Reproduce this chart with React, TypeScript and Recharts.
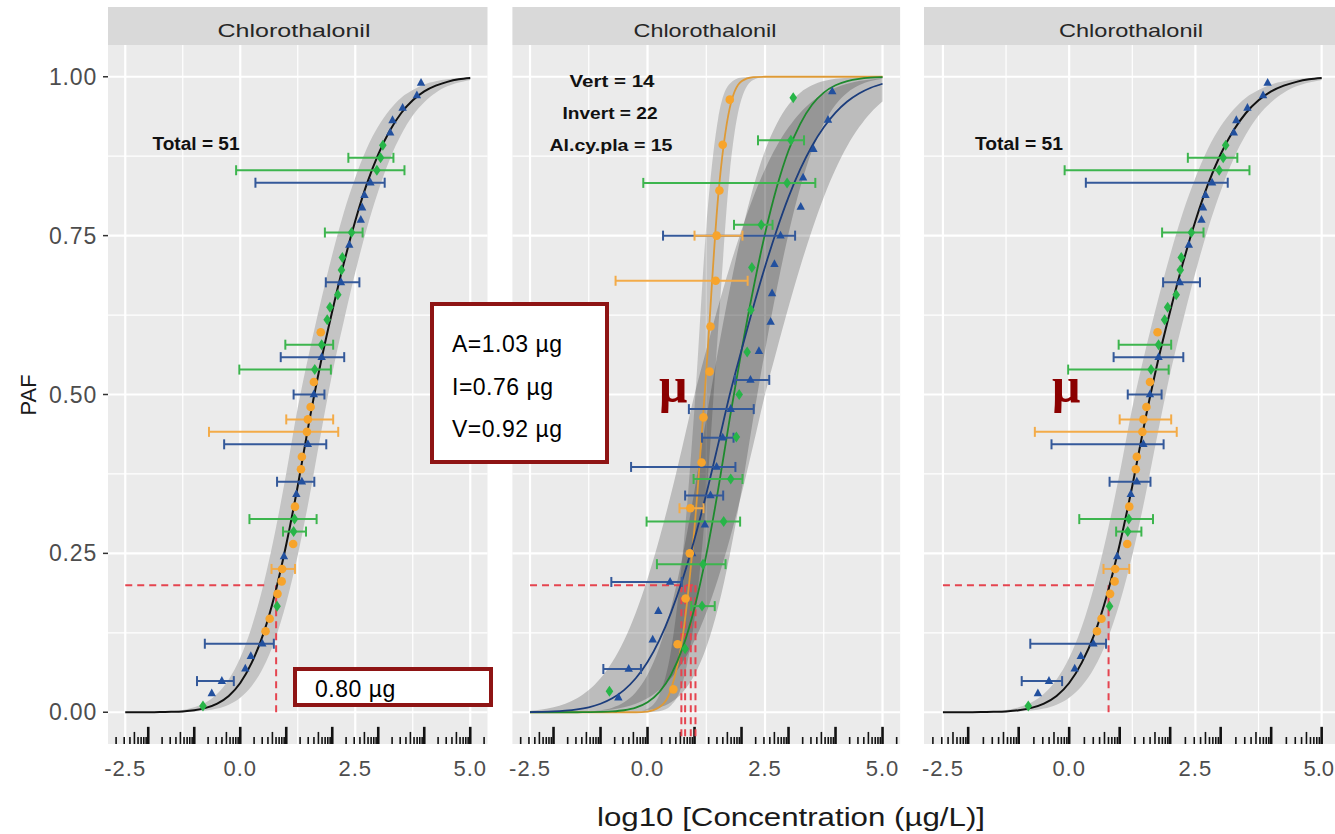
import {
  ComposedChart,
  XAxis,
  YAxis,
  CartesianGrid,
  Line,
  Area,
  Scatter,
  ErrorBar,
  ReferenceLine,
} from "recharts";

const FONT = '"Liberation Sans", Arial, sans-serif';

// tick labels / grid
const xTicks = [-2.5, 0, 2.5, 5];
const xMinor = [-1.25, 1.25, 3.75];
const yTicks = [0, 0.25, 0.5, 0.75, 1];
const yMinor = [0.125, 0.375, 0.625, 0.875];
const panelTitle = "Chlorothalonil";
const groupLabels = ["Vert = 14", "Invert = 22", "Al.cy.pla = 15"];
const totalLabel = "Total = 51";
const hcLabels = ["A=1.03 µg", "I=0.76 µg", "V=0.92 µg"];
const hcTotalLabel = "0.80 µg";

// species points: log10 conc, CI low/high (null = no bar), PAF in pooled fit, PAF in group fit
const vertConc = [0.55, 0.64, 0.81, 0.9, 0.91, 1.15, 1.19, 1.32, 1.34, 1.45, 1.47, 1.53, 1.6, 1.75];
const vertLo = [null, null, null, null, 0.68, null, null, null, null, -0.68, 1.0, null, null, null];
const vertHi = [null, null, null, null, 1.19, null, null, null, null, 2.13, 2.02, null, null, null];
const vertPafAll = [0.1275, 0.1471, 0.1863, 0.2059, 0.2255, 0.2647, 0.3235, 0.3824, 0.402, 0.4412, 0.4608, 0.4804, 0.5196, 0.598];
const vertPafGroup = [0.036, 0.107, 0.179, 0.25, 0.321, 0.393, 0.464, 0.536, 0.607, 0.679, 0.75, 0.821, 0.893, 0.964];

const invConc = [-0.62, -0.4, 0.11, 0.23, 0.48, 0.95, 1.22, 1.34, 1.47, 1.6, 1.77, 2.19, 2.37, 2.62, 2.65, 2.7, 2.83, 3.26, 3.31, 3.53, 3.84, 3.93];
const invLo = [null, -0.94, null, null, -0.77, null, null, 0.8, -0.35, 1.16, 0.88, 1.86, null, null, null, null, 0.33, null, null, null, null, null];
const invHi = [null, -0.14, null, null, 0.73, null, null, 1.61, 1.87, 1.83, 2.26, 2.59, null, null, null, null, 3.14, null, null, null, null, null];
const invPafAll = [0.0294, 0.049, 0.0686, 0.0882, 0.1078, 0.2451, 0.3431, 0.3627, 0.4216, 0.5, 0.5588, 0.6765, 0.7353, 0.7745, 0.7941, 0.8137, 0.8333, 0.9118, 0.9314, 0.951, 0.9706, 0.9902];
const invPafGroup = [0.023, 0.068, 0.114, 0.159, 0.205, 0.25, 0.295, 0.341, 0.386, 0.432, 0.477, 0.523, 0.568, 0.614, 0.659, 0.705, 0.75, 0.795, 0.841, 0.886, 0.932, 0.977];

const algConc = [-0.81, 0.8, 1.16, 1.18, 1.62, 1.77, 1.89, 1.95, 2.12, 2.2, 2.22, 2.42, 2.97, 3.05, 3.1];
const algLo = [null, null, 0.93, 0.2, -0.02, 0.98, null, null, null, null, null, 1.84, -0.09, 2.35, null];
const algHi = [null, null, 1.43, 1.66, 1.97, 2.02, null, null, null, null, null, 2.66, 3.57, 3.33, null];
const algPafAll = [0.0098, 0.1667, 0.2843, 0.3039, 0.5392, 0.5784, 0.6176, 0.6373, 0.6569, 0.6961, 0.7157, 0.7549, 0.8529, 0.8725, 0.8922];
const algPafGroup = [0.033, 0.1, 0.167, 0.233, 0.3, 0.367, 0.433, 0.5, 0.567, 0.633, 0.7, 0.767, 0.833, 0.9, 0.967];

// fitted curves
const curveX = [-2.5, -2.25, -2, -1.75, -1.5, -1.25, -1, -0.75, -0.5, -0.25, 0, 0.25, 0.5, 0.75, 1, 1.25, 1.5, 1.75, 2, 2.25, 2.5, 2.75, 3, 3.25, 3.5, 3.75, 4, 4.25, 4.5, 4.75, 5];
const totalFit = [0, 0, 0.0001, 0.0002, 0.0006, 0.0013, 0.0031, 0.0068, 0.0136, 0.0256, 0.046, 0.078, 0.123, 0.185, 0.264, 0.356, 0.458, 0.55, 0.631, 0.706, 0.773, 0.831, 0.878, 0.915, 0.943, 0.963, 0.977, 0.986, 0.992, 0.996, 0.998];
const totalUpper = [0, 0.0001, 0.0003, 0.0007, 0.0016, 0.0037, 0.0078, 0.0154, 0.029, 0.0515, 0.0856, 0.1346, 0.2, 0.281, 0.376, 0.479, 0.566, 0.646, 0.72, 0.786, 0.841, 0.887, 0.922, 0.948, 0.967, 0.979, 0.988, 0.993, 0.996, 0.998, 0.999];
const totalLower = [0, 0, 0, 0.0001, 0.0002, 0.0005, 0.0011, 0.0026, 0.0057, 0.0119, 0.0228, 0.0412, 0.0703, 0.113, 0.172, 0.247, 0.337, 0.437, 0.533, 0.615, 0.692, 0.761, 0.82, 0.87, 0.909, 0.939, 0.96, 0.975, 0.985, 0.991, 0.995];

const vertFit = [0, 0, 0, 0, 0, 0, 0, 0, 0, 0, 0.0011, 0.0077, 0.036, 0.12, 0.291, 0.537, 0.809, 0.951, 0.993, 0.9994, 1, 1, 1, 1, 1, 1, 1, 1, 1, 1, 1];
const vertUpper = [0, 0, 0, 0, 0, 0, 0, 0, 0, 0.0007, 0.0054, 0.027, 0.097, 0.25, 0.48, 0.764, 0.933, 0.989, 0.9989, 1, 1, 1, 1, 1, 1, 1, 1, 1, 1, 1, 1];
const vertLower = [0, 0, 0, 0, 0, 0, 0, 0, 0, 0, 0, 0.0017, 0.0107, 0.047, 0.147, 0.335, 0.599, 0.849, 0.965, 0.995, 0.9996, 1, 1, 1, 1, 1, 1, 1, 1, 1, 1];

const invFit = [0.0003, 0.0006, 0.0012, 0.0024, 0.0044, 0.0078, 0.0133, 0.0219, 0.0348, 0.0534, 0.0791, 0.113, 0.1567, 0.21, 0.2726, 0.3434, 0.4207, 0.5, 0.57, 0.6376, 0.701, 0.759, 0.8106, 0.8545, 0.891, 0.9204, 0.9435, 0.961, 0.9736, 0.9827, 0.989];
const invUpper = [0.0024, 0.0044, 0.0078, 0.0133, 0.0219, 0.0348, 0.0534, 0.0791, 0.113, 0.1567, 0.21, 0.2726, 0.3434, 0.4207, 0.5, 0.57, 0.6376, 0.701, 0.759, 0.8106, 0.8545, 0.891, 0.9204, 0.9435, 0.961, 0.9736, 0.9827, 0.989, 0.9932, 0.9959, 0.9976];
const invLower = [0, 0.0001, 0.0001, 0.0003, 0.0006, 0.0012, 0.0024, 0.0044, 0.0078, 0.0133, 0.0219, 0.0348, 0.0534, 0.0791, 0.113, 0.1567, 0.21, 0.2726, 0.3434, 0.4207, 0.5, 0.57, 0.6376, 0.701, 0.759, 0.8106, 0.8545, 0.891, 0.9204, 0.9435, 0.961];

const algFit = [0, 0, 0, 0, 0, 0.0001, 0.0004, 0.0012, 0.0031, 0.0072, 0.0157, 0.0315, 0.0588, 0.102, 0.1645, 0.2476, 0.349, 0.4625, 0.569, 0.666, 0.753, 0.826, 0.884, 0.926, 0.956, 0.975, 0.9866, 0.9932, 0.9968, 0.9986, 0.9994];
const algUpper = [0, 0, 0, 0.0001, 0.0004, 0.0012, 0.0031, 0.0072, 0.0157, 0.0315, 0.0588, 0.102, 0.1645, 0.2476, 0.349, 0.4625, 0.569, 0.666, 0.753, 0.826, 0.884, 0.926, 0.956, 0.975, 0.9866, 0.9932, 0.9968, 0.9986, 0.9994, 0.9998, 1];
const algLower = [0, 0, 0, 0, 0, 0, 0, 0.0001, 0.0004, 0.0012, 0.0031, 0.0072, 0.0157, 0.0315, 0.0588, 0.102, 0.1645, 0.2476, 0.349, 0.4625, 0.569, 0.666, 0.753, 0.826, 0.884, 0.926, 0.956, 0.975, 0.9866, 0.9932, 0.9968];

// HC20 guides
const hcLevel = 0.2;
const hcTotal = 0.8;
const hcGroups = [0.72, 0.8, 0.92, 1.02];

const BLUE = "#22509E";
const BLUE_LINE = "#1C3D7C";
const BLUE_BAR = "#34599A";
const GREEN = "#27B548";
const GREEN_LINE = "#1E8A2E";
const GREEN_BAR = "#3DB54E";
const ORANGE = "#F7A42C";
const ORANGE_LINE = "#DE9A36";
const ORANGE_BAR = "#F3AB48";
const RED = "#E5444F";
const BOX = "#8E1414";

const curveRows = curveX.map((x, i) => ({
  x,
  total: totalFit[i],
  totalBand: [totalLower[i], totalUpper[i]],
  vert: vertFit[i],
  vertBand: [vertLower[i], vertUpper[i]],
  inv: invFit[i],
  invBand: [invLower[i], invUpper[i]],
  alg: algFit[i],
  algBand: [algLower[i], algUpper[i]],
}));

function pts(conc: number[], lo: (number | null)[], hi: (number | null)[], paf: number[]) {
  return conc.map((x, i) => ({
    x,
    y: paf[i],
    err: lo[i] == null ? null : [x - (lo[i] as number), (hi[i] as number) - x],
  }));
}

// annotation_logticks style marks
const logTicks: { x: number; len: number; w: number }[] = [];
for (let d = -3; d <= 5; d++) {
  for (let k = 1; k <= 9; k++) {
    const x = d + Math.log10(k);
    if (x < -2.85 || x > 5.35) continue;
    logTicks.push({ x, len: k === 1 ? 0.027 : k === 5 ? 0.019 : 0.011, w: k === 1 ? 2.6 : 1.6 });
  }
}

const triangle = (p: any) => (
  <polygon
    points={`${p.cx},${p.cy - 5} ${p.cx - 4.2},${p.cy + 2.8} ${p.cx + 4.2},${p.cy + 2.8}`}
    fill={BLUE}
  />
);
const diamond = (p: any) => (
  <polygon
    points={`${p.cx},${p.cy - 5.5} ${p.cx + 3.8},${p.cy} ${p.cx},${p.cy + 5.5} ${p.cx - 3.8},${p.cy}`}
    fill={GREEN}
  />
);
const dot = (p: any) => <circle cx={p.cx} cy={p.cy} r={4.3} fill={ORANGE} />;

// x tick labels; keep the last one inside the visible page edge
const makeXTick = (maxX: number) => (props: any) => {
  const { x, y, payload } = props;
  const tooFar = x + 19 > maxX;
  return (
    <text
      x={tooFar ? maxX - 1 : x}
      y={y + 32}
      textAnchor={tooFar ? "end" : "middle"}
      fontSize={22}
      fill="#4D4D4D"
      letterSpacing={tooFar ? 0 : 1}
      fontFamily={FONT}
    >
      {payload.value.toFixed(1)}
    </text>
  );
};

const YTick = (props: any) => {
  const { x, y, payload } = props;
  return (
    <text x={x} y={y + 8} textAnchor="end" fontSize={23} fill="#4D4D4D" letterSpacing={0.8} fontFamily={FONT}>
      {payload.value.toFixed(2)}
    </text>
  );
};

type PanelProps = {
  left: number;
  width: number;
  margin: { top: number; right: number; bottom: number; left: number };
  showY: boolean;
  grouped: boolean;
  visibleWidth: number;
};

function Panel({ left, width, margin, showY, grouped, visibleWidth }: PanelProps) {
  const vPts = pts(vertConc, vertLo, vertHi, grouped ? vertPafGroup : vertPafAll);
  const iPts = pts(invConc, invLo, invHi, grouped ? invPafGroup : invPafAll);
  const aPts = pts(algConc, algLo, algHi, grouped ? algPafGroup : algPafAll);
  return (
    <div style={{ position: "absolute", left, top: 0 }}>
      <ComposedChart width={width} height={800} data={curveRows} margin={margin}>
        <CartesianGrid fill="#EBEBEB" stroke="#FFFFFF" strokeWidth={1.2} horizontalValues={yMinor} verticalValues={xMinor} />
        <CartesianGrid fill="none" stroke="#FFFFFF" strokeWidth={2.2} horizontalValues={yTicks} verticalValues={xTicks} />
        <XAxis
          dataKey="x"
          type="number"
          domain={[-2.875, 5.375]}
          allowDataOverflow
          ticks={xTicks}
          interval={0}
          axisLine={false}
          tickLine={false}
          tickSize={0}
          tickMargin={0}
          height={40}
          tick={makeXTick(visibleWidth)}
        />
        <YAxis
          type="number"
          domain={[-0.05, 1.05]}
          allowDataOverflow
          ticks={yTicks}
          interval={0}
          hide={!showY}
          width={108}
          axisLine={false}
          tickLine={{ stroke: "#333", strokeWidth: 1.5 }}
          tickSize={5}
          tickMargin={6}
          tick={YTick}
        />

        {grouped ? (
          <>
            <Area dataKey="invBand" type="monotone" stroke="none" fill="#000" fillOpacity={0.2} isAnimationActive={false} />
            <Area dataKey="algBand" type="monotone" stroke="none" fill="#000" fillOpacity={0.2} isAnimationActive={false} />
            <Area dataKey="vertBand" type="monotone" stroke="none" fill="#000" fillOpacity={0.17} isAnimationActive={false} />
          </>
        ) : (
          <Area dataKey="totalBand" type="monotone" stroke="none" fill="#C4C4C4" fillOpacity={1} isAnimationActive={false} />
        )}

        {logTicks.map((t, i) => (
          <ReferenceLine
            key={"lt" + i}
            segment={[{ x: t.x, y: -0.05 }, { x: t.x, y: -0.05 + t.len }]}
            stroke="#111"
            strokeWidth={t.w}
            ifOverflow="visible"
          />
        ))}

        {grouped ? (
          <>
            <ReferenceLine segment={[{ x: -2.5, y: hcLevel }, { x: 1.0, y: hcLevel }]} stroke={RED} strokeWidth={2} strokeDasharray="7 5" ifOverflow="visible" />
            {hcGroups.map((h, i) => (
              <ReferenceLine key={"hc" + i} segment={[{ x: h, y: hcLevel }, { x: h, y: -0.045 }]} stroke={RED} strokeWidth={2} strokeDasharray="7 5" ifOverflow="visible" />
            ))}
          </>
        ) : (
          <>
            <ReferenceLine segment={[{ x: -2.5, y: hcLevel }, { x: 0.55, y: hcLevel }]} stroke={RED} strokeWidth={2} strokeDasharray="7 5" ifOverflow="visible" />
            <ReferenceLine segment={[{ x: hcTotal - 0.02, y: hcLevel }, { x: hcTotal - 0.02, y: 0 }]} stroke={RED} strokeWidth={2} strokeDasharray="7 5" ifOverflow="visible" />
          </>
        )}

        {grouped ? (
          <>
            <Line dataKey="vert" type="monotone" stroke={ORANGE_LINE} strokeWidth={1.8} dot={false} isAnimationActive={false} />
            <Line dataKey="alg" type="monotone" stroke={GREEN_LINE} strokeWidth={1.8} dot={false} isAnimationActive={false} />
            <Line dataKey="inv" type="monotone" stroke={BLUE_LINE} strokeWidth={1.8} dot={false} isAnimationActive={false} />
          </>
        ) : (
          <Line dataKey="total" type="monotone" stroke="#111" strokeWidth={2} dot={false} isAnimationActive={false} />
        )}

        <Scatter data={iPts} dataKey="y" shape={triangle} isAnimationActive={false}>
          <ErrorBar dataKey="err" direction="x" stroke={BLUE_BAR} strokeWidth={2} width={5} />
        </Scatter>
        <Scatter data={aPts} dataKey="y" shape={diamond} isAnimationActive={false}>
          <ErrorBar dataKey="err" direction="x" stroke={GREEN_BAR} strokeWidth={2} width={5} />
        </Scatter>
        <Scatter data={vPts} dataKey="y" shape={dot} isAnimationActive={false}>
          <ErrorBar dataKey="err" direction="x" stroke={ORANGE_BAR} strokeWidth={2} width={5} />
        </Scatter>
      </ComposedChart>
    </div>
  );
}

function Strip({ x, w, textX, textLen }: { x: number; w: number; textX: number; textLen: number }) {
  return (
    <g>
      <rect x={x} y={7} width={w} height={38} fill="#D9D9D9" />
      <text x={textX} y={37} textAnchor="middle" fontSize={19} fill="#262626" textLength={textLen} lengthAdjust="spacingAndGlyphs">
        {panelTitle}
      </text>
    </g>
  );
}

export default function App() {
  return (
    <div
      style={{
        position: "absolute",
        left: 0,
        top: 0,
        width: 1335,
        height: 834,
        overflow: "hidden",
        background: "#fff",
        fontFamily: FONT,
      }}
    >
      <Panel left={0} width={500} margin={{ top: 45, right: 12.5, bottom: 16, left: 0 }} showY grouped={false} visibleWidth={520} />
      <Panel left={500} width={420} margin={{ top: 45, right: 19.85, bottom: 16, left: 12.4 }} showY={false} grouped visibleWidth={440} />
      <Panel left={920} width={425} margin={{ top: 45, right: 4.4, bottom: 16, left: 4 }} showY={false} grouped={false} visibleWidth={415} />

      <svg width={1335} height={834} style={{ position: "absolute", left: 0, top: 0, pointerEvents: "none" }} fontFamily={FONT}>
        <Strip x={108} w={379.5} textX={294} textLen={153} />
        <Strip x={512.4} w={387.7} textX={705} textLen={143} />
        <Strip x={924} w={416} textX={1131} textLen={144} />

        <text x={196} y={150} textAnchor="middle" fontSize={18} fontWeight="bold" fill="#111" textLength={87} lengthAdjust="spacingAndGlyphs">
          {totalLabel}
        </text>
        <text x={1019} y={150} textAnchor="middle" fontSize={18} fontWeight="bold" fill="#111" textLength={88} lengthAdjust="spacingAndGlyphs">
          {totalLabel}
        </text>
        {groupLabels.map((g, i) => (
          <text
            key={g}
            x={[612, 610, 611][i]}
            y={[87, 119, 151][i]}
            textAnchor="middle"
            fontSize={17}
            fontWeight="bold"
            fill="#111"
            textLength={[85, 95, 123][i]}
            lengthAdjust="spacingAndGlyphs"
          >
            {g}
          </text>
        ))}

        <rect x={432} y={304} width={175} height={158} fill="#fff" stroke={BOX} strokeWidth={4} />
        {hcLabels.map((t, i) => (
          <text key={t} x={452} y={352 + i * 42.5} fontSize={23} fill="#000" letterSpacing={0.5}>
            {t}
          </text>
        ))}
        <rect x={295} y={669} width={196} height={36} fill="#fff" stroke={BOX} strokeWidth={4} />
        <text x={315} y={697} fontSize={23} fill="#000" letterSpacing={0.5}>
          {hcTotalLabel}
        </text>

        <text x={659} y={402} fontSize={50} fontWeight="bold" fill="#8B0000" fontFamily='"Liberation Serif", "DejaVu Serif", serif'>
          μ
        </text>
        <text x={1052} y={402} fontSize={50} fontWeight="bold" fill="#8B0000" fontFamily='"Liberation Serif", "DejaVu Serif", serif'>
          μ
        </text>

        <text x={36} y={395} textAnchor="middle" fontSize={22} fill="#1A1A1A" transform="rotate(-90 36 395)">
          PAF
        </text>
        <text x={791} y={826} textAnchor="middle" fontSize={26} fill="#1A1A1A" textLength={388} lengthAdjust="spacingAndGlyphs">
          log10 [Concentration (µg/L)]
        </text>
      </svg>
    </div>
  );
}
